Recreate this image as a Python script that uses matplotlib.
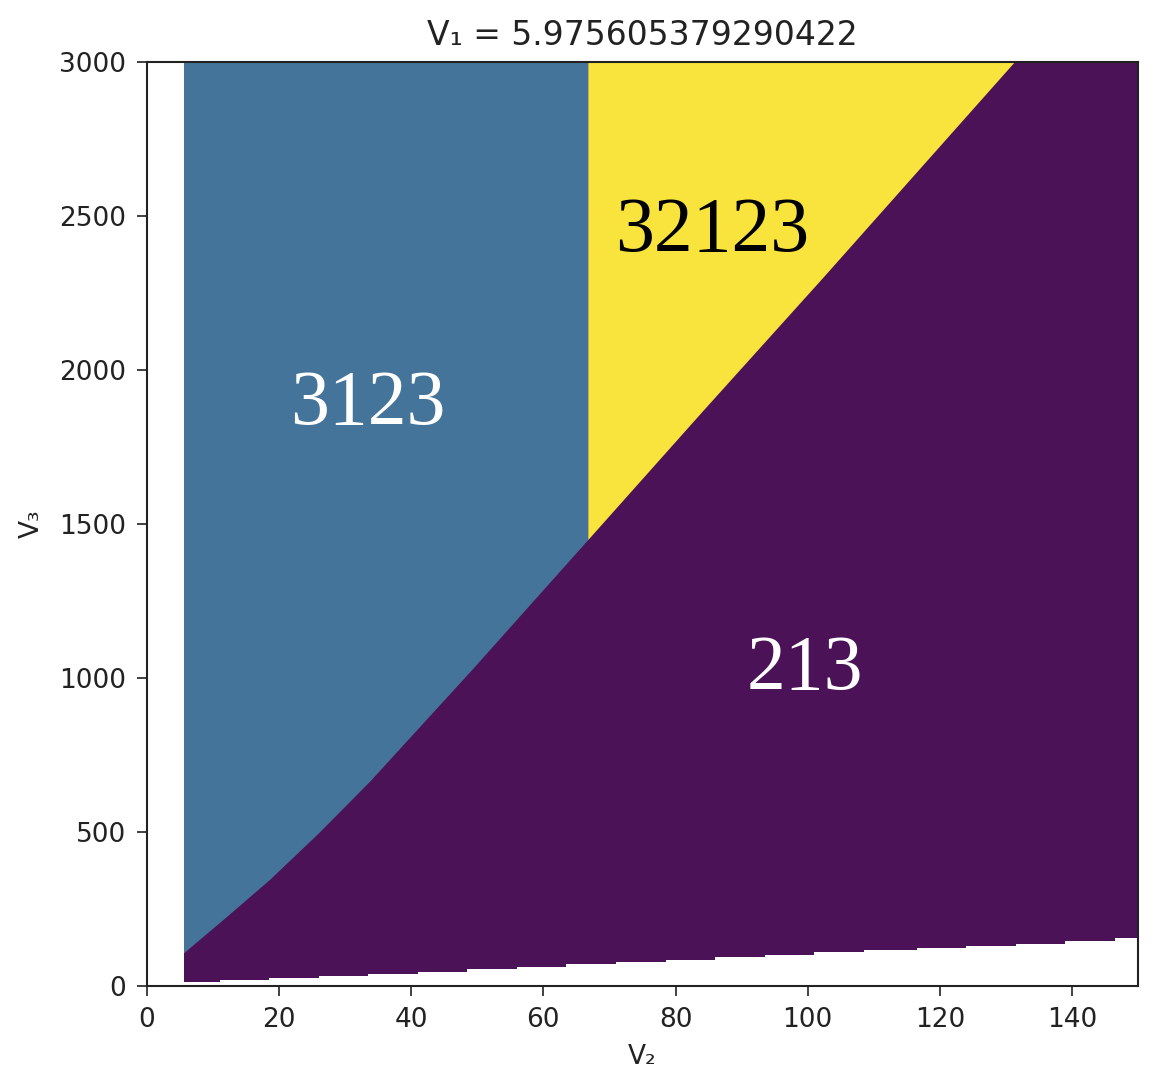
import numpy as np
import matplotlib
matplotlib.use('Agg')
import matplotlib.pyplot as plt

# values
v1 = 5.975605379290422
x_start = 5.6

# boundary between 213 and the other two regions
edge_x = [5.6, 12.0, 18.6, 26.0, 33.8, 49.4, 66.8, 84.0, 102.4, 131.4]
edge_y = [106, 222, 344, 495, 664, 1030, 1448, 1862, 2300, 3000]
split_x = 66.8   # where 3123 turns into 32123

# stepped lower edge of the coloured area
low_x = [5.6, 11.0, 18.5, 26.0, 33.5, 41.0, 48.5, 56.0, 63.5, 71.0, 78.5,
         86.0, 93.5, 101.0, 108.5, 116.5, 124.0, 131.5, 139.0, 146.5, 150.0]
low_y = [13, 19, 25, 31, 38, 46, 54, 62, 70, 78, 86,
         94, 102, 110, 117, 123, 131, 137, 147, 155, 155]

labels = ['3123', '32123', '213']
label_x = [33.4, 85.5, 99.6]
label_y = [1886, 2448, 1026]
label_colors = ['white', 'black', 'white']

c_213 = '#4b1258'
c_3123 = '#447499'
c_32123 = '#f8e43c'

fig = plt.figure(figsize=(11.74, 10.75), dpi=100)
ax = fig.add_axes([0.1252, 0.0828, 0.8441, 0.8595])

# region 213: everything above the stepped lower edge
ax.fill_between(low_x, low_y, 3000, step='post', color=c_213, lw=0)

# region 3123
n_split = edge_x.index(split_x)
bx = [x_start] + edge_x[:n_split + 1] + [split_x]
by = [3000] + edge_y[:n_split + 1] + [3000]
ax.fill(bx, by, color=c_3123, lw=0)

# region 32123
yx = edge_x[n_split:] + [split_x]
yy = edge_y[n_split:] + [3000]
ax.fill(yx, yy, color=c_32123, lw=0)

for t, x, y, c in zip(labels, label_x, label_y, label_colors):
    ax.text(x, y, t, color=c, fontsize=56, family='Liberation Serif',
            ha='center', va='center')

ax.set_xlim(0, 150)
ax.set_ylim(0, 3000)
ax.set_xticks(np.arange(0, 150, 20))
ax.set_yticks(np.arange(0, 3001, 500))
ax.tick_params(labelsize=19, length=7, width=1.3, pad=8,
               colors='#333333', labelcolor='#222222')
for s in ax.spines.values():
    s.set_linewidth(1.5)
    s.set_color('#222222')

ax.set_title('V\u2081 = ' + str(v1), fontsize=23.8, pad=12, color='#222222')
ax.set_xlabel('V\u2082', fontsize=19, labelpad=8, color='#222222')
ax.set_ylabel('V\u2083', fontsize=19, labelpad=10, color='#222222')

fig.savefig('out.png', dpi=100)
